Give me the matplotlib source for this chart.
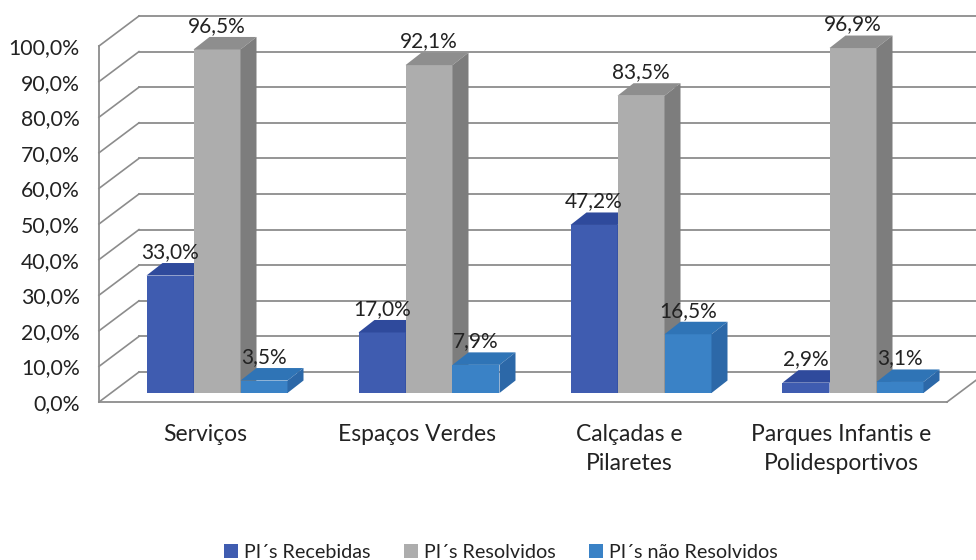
import numpy as np
import matplotlib.pyplot as plt
from matplotlib.patches import Polygon

categories = ['Serviços', 'Espaços Verdes', 'Calçadas e\nPilaretes', 'Parques Infantis e\nPolidesportivos']
recebidas = [33.0, 17.0, 47.2, 2.9]
resolvidos = [96.5, 92.1, 83.5, 96.9]
nao_resolvidos = [3.5, 7.9, 16.5, 3.1]
series_names = ['PI´s Recebidas', 'PI´s Resolvidos', 'PI´s não Resolvidos']
yticks = np.arange(0, 101, 10)

plt.rcParams['font.family'] = ['Lato', 'DejaVu Sans']

W, H = 976, 560
fig = plt.figure(figsize=(W / 100, H / 100), dpi=100)
# axes = front plane of the fake 3d box
ax = fig.add_axes([99 / W, 1 - 402 / H, 848 / W, 356 / H])
ax.set_xlim(-0.5, 3.5)
ax.set_ylim(0, 100)

# px to data units
px_x = 4 / 848
px_y = 100 / 356

grid_col = '#8c8c8c'
for t in yticks:
    ax.plot([-0.5, -0.5 + 40 * px_x], [t, t + 30 * px_y], color=grid_col, lw=1.2, clip_on=False, zorder=1)
    ax.plot([-0.5 + 40 * px_x, 3.5 + 40 * px_x], [t + 30 * px_y, t + 30 * px_y], color=grid_col, lw=1.3,
            clip_on=False, zorder=1)
ax.plot([3.5, 3.5 + 40 * px_x], [0, 30 * px_y], color=grid_col, lw=1.2, clip_on=False, zorder=1)


def bars3d(values, shift, front, top, side, label):
    width = 47 * px_x
    base_x = 12 * px_x
    base_y = 9 * px_y
    dx = 16 * px_x
    dy = 12.5 * px_y
    xs = np.arange(len(values)) + base_x + shift * width
    rects = ax.bar(xs, values, width=width, bottom=base_y, color=front, label=label, zorder=3, clip_on=False)
    for x, v in zip(xs, values):
        l = x - width / 2
        r = x + width / 2
        t = v + base_y
        ax.add_patch(Polygon([(l, t), (r, t), (r + dx, t + dy), (l + dx, t + dy)], color=top, lw=0, zorder=3,
                             clip_on=False))
        ax.add_patch(Polygon([(r, base_y), (r + dx, base_y + dy), (r + dx, t + dy), (r, t)], color=side, lw=0,
                             zorder=3, clip_on=False))
    return rects, xs


r1, x1 = bars3d(recebidas, -1, '#3f5cb0', '#2f4a9c', '#2f4a9c', series_names[0])
r2, x2 = bars3d(resolvidos, 0, '#adadad', '#8e8e8e', '#7d7d7d', series_names[1])
r3, x3 = bars3d(nao_resolvidos, 1, '#3a82c6', '#2f74b6', '#2c68a8', series_names[2])

# data labels on top of everything
for xs, vals in ((x1, recebidas), (x2, resolvidos), (x3, nao_resolvidos)):
    for x, v in zip(xs, vals):
        ax.annotate(('%.1f%%' % v).replace('.', ','), (x, v + 9 * px_y), xytext=(0, 17),
                    textcoords='offset points', ha='center', va='center', fontsize=15, color='#222222',
                    zorder=6, annotation_clip=False)

ax.set_xticks(range(len(categories)))
ax.set_xticklabels(categories, fontsize=16.5, color='#222222', linespacing=1.45)
ax.set_yticks(yticks)
ax.set_yticklabels([('%.1f%%' % t).replace('.', ',') for t in yticks], fontsize=15.3, color='#222222')
ax.tick_params(axis='x', length=0, pad=16)
ax.tick_params(axis='y', length=0, pad=14)

for s in ('top', 'right'):
    ax.spines[s].set_visible(False)
for s in ('left', 'bottom'):
    ax.spines[s].set_color(grid_col)
    ax.spines[s].set_linewidth(1.3)

fig.legend(handles=[r1, r2, r3], labels=series_names, loc='center', bbox_to_anchor=(501 / W, 1 - 552 / H),
           ncol=3, frameon=False, fontsize=14.2, handlelength=0.7, handleheight=0.7, handletextpad=0.3,
           columnspacing=1.7, labelcolor='#222222')

fig.savefig('out.png', dpi=100)
